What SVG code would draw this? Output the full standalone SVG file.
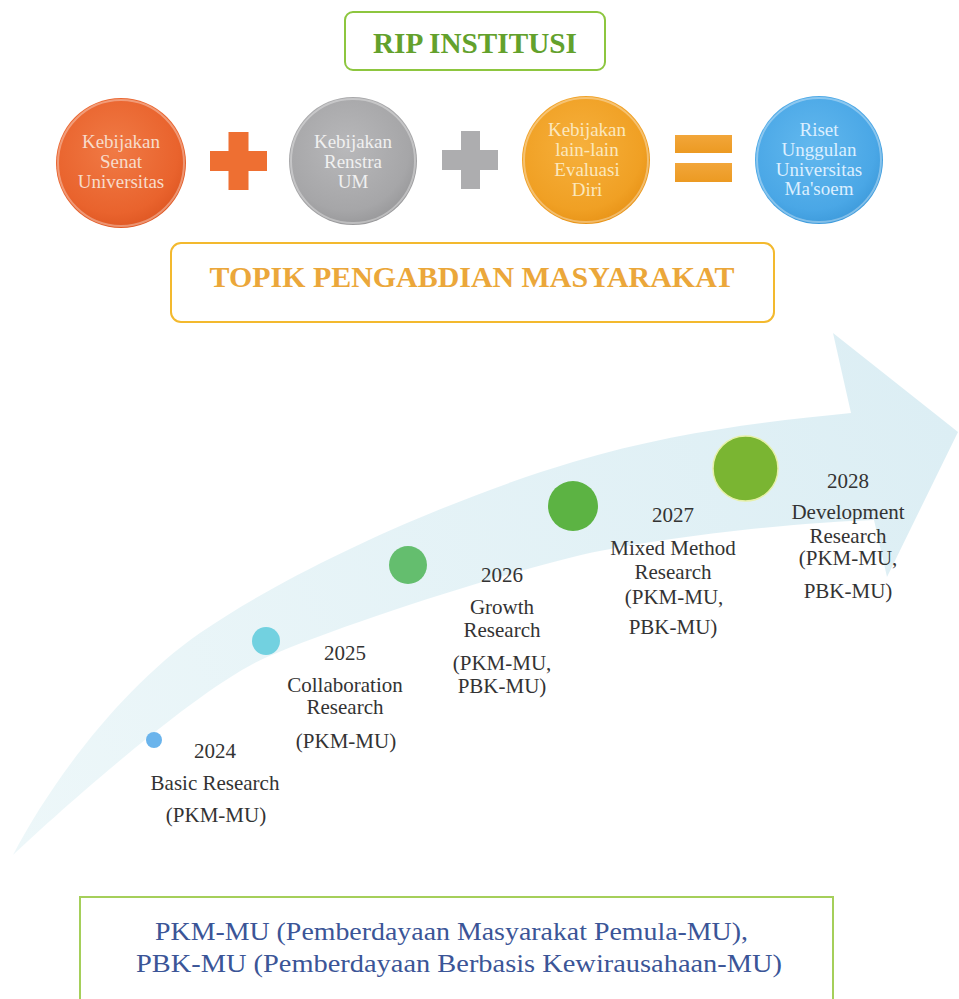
<svg xmlns="http://www.w3.org/2000/svg" width="959" height="999" viewBox="0 0 959 999">
<defs>
<radialGradient id="gOrange" cx="0.45" cy="0.4" r="0.65"><stop offset="0" stop-color="#f07a45"/><stop offset="0.75" stop-color="#e9632d"/><stop offset="1" stop-color="#dc5420"/></radialGradient>
<radialGradient id="gGray" cx="0.45" cy="0.4" r="0.65"><stop offset="0" stop-color="#b8b8ba"/><stop offset="0.75" stop-color="#a6a6a8"/><stop offset="1" stop-color="#949496"/></radialGradient>
<radialGradient id="gYellow" cx="0.45" cy="0.4" r="0.65"><stop offset="0" stop-color="#f6b03c"/><stop offset="0.75" stop-color="#f0a024"/><stop offset="1" stop-color="#e69014"/></radialGradient>
<radialGradient id="gBlue" cx="0.45" cy="0.4" r="0.65"><stop offset="0" stop-color="#62b8ee"/><stop offset="0.75" stop-color="#4aa7e6"/><stop offset="1" stop-color="#3a97d8"/></radialGradient>
<linearGradient id="gArrow" x1="13" y1="855" x2="958" y2="432" gradientUnits="userSpaceOnUse"><stop offset="0" stop-color="#edf7f9"/><stop offset="1" stop-color="#dceef4"/></linearGradient>
<linearGradient id="gOp" x1="0" y1="0" x2="0" y2="1"><stop offset="0" stop-color="#f2a63a"/><stop offset="1" stop-color="#ec9a22"/></linearGradient>
</defs>
<style>
.ct{font-family:"Liberation Serif","Times New Roman",serif;font-size:19px;text-anchor:middle}
.lbl{font-family:"Liberation Serif","Times New Roman",serif;font-size:21px;fill:#333;text-anchor:middle}
.hdr{font-family:"Liberation Serif","Times New Roman",serif;font-weight:bold;text-anchor:middle}
.leg{font-family:"Liberation Serif","Times New Roman",serif;font-size:25px;fill:#3b5597;text-anchor:middle}
.rim{fill:none;stroke:#ffffff;stroke-opacity:0.35;stroke-width:2}
</style>
<rect width="959" height="999" fill="#ffffff"/>

<g id="connectors">
<path id="timeline-arrow" fill="url(#gArrow)" d="M 13 855 C 55 775, 125 685, 200 633 C 290 571, 443 501, 573 462 C 673 432, 771 421, 851 413 L 833 333 L 958 432 L 887 577 L 874 520 C 800 522, 650 538, 573 557 C 473 582, 337 627, 267 657 C 197 687, 50 820, 13 855 Z"/>
</g>

<g id="rip-institusi">
<rect x="345" y="12" width="260" height="58" rx="8" fill="#fff" stroke="#8dc63f" stroke-width="2"/>
<text class="hdr" x="475" y="53" font-size="29" fill="#63a12c" textLength="204" lengthAdjust="spacingAndGlyphs">RIP INSTITUSI</text>
</g>

<g id="kebijakan-senat">
<circle cx="121" cy="163" r="65" fill="url(#gOrange)"/>
<circle cx="121" cy="163" r="63" class="rim"/>
<text class="ct" fill="#f7dccb"><tspan x="121" y="148">Kebijakan</tspan><tspan x="121" y="168">Senat</tspan><tspan x="121" y="188">Universitas</tspan></text>
</g>

<g id="plus-1">
<rect x="228.5" y="132" width="20" height="58" fill="#ee6f32"/>
<rect x="210" y="151" width="57" height="20" fill="#ee6f32"/>
</g>

<g id="kebijakan-renstra">
<circle cx="353" cy="161" r="64" fill="url(#gGray)"/>
<circle cx="353" cy="161" r="62" class="rim"/>
<text class="ct" fill="#f0f0f0"><tspan x="353" y="148">Kebijakan</tspan><tspan x="353" y="168">Renstra</tspan><tspan x="353" y="188">UM</tspan></text>
</g>

<g id="plus-2">
<rect x="461" y="131" width="19" height="58" fill="#adadaf"/>
<rect x="442" y="150" width="56" height="20" fill="#adadaf"/>
</g>

<g id="kebijakan-lain">
<circle cx="586" cy="160" r="64" fill="url(#gYellow)"/>
<circle cx="586" cy="160" r="62" class="rim"/>
<text class="ct" fill="#fbe7bd"><tspan x="587" y="136">Kebijakan</tspan><tspan x="587" y="156">lain-lain</tspan><tspan x="587" y="176">Evaluasi</tspan><tspan x="587" y="196">Diri</tspan></text>
</g>

<g id="equals">
<rect x="675" y="135" width="57" height="18" fill="url(#gOp)"/>
<rect x="675" y="163" width="57" height="19" fill="url(#gOp)"/>
</g>

<g id="riset-unggulan">
<circle cx="819" cy="160" r="64" fill="url(#gBlue)"/>
<circle cx="819" cy="160" r="62" class="rim"/>
<text class="ct" fill="#dcefff"><tspan x="819" y="136">Riset</tspan><tspan x="819" y="156">Unggulan</tspan><tspan x="819" y="176">Universitas</tspan><tspan x="819" y="195">Ma'soem</tspan></text>
</g>

<g id="topik-pengabdian">
<rect x="171" y="243" width="603" height="79" rx="10" fill="#fff" stroke="#f3b92e" stroke-width="2"/>
<text class="hdr" x="472" y="287" font-size="29" fill="#eba73a" textLength="525" lengthAdjust="spacingAndGlyphs">TOPIK PENGABDIAN MASYARAKAT</text>
</g>

<g id="y2024">
<circle cx="154" cy="740" r="8" fill="#6ab4ec"/>
<text class="lbl"><tspan x="215" y="758">2024</tspan><tspan x="215" y="790">Basic Research</tspan><tspan x="216" y="822">(PKM-MU)</tspan></text>
</g>

<g id="y2025">
<circle cx="266" cy="641" r="14" fill="#72d1e0"/>
<text class="lbl"><tspan x="345" y="660">2025</tspan><tspan x="345" y="692">Collaboration</tspan><tspan x="345" y="714">Research</tspan><tspan x="346" y="748">(PKM-MU)</tspan></text>
</g>

<g id="y2026">
<circle cx="408" cy="565" r="19" fill="#64be6e"/>
<text class="lbl"><tspan x="502" y="582">2026</tspan><tspan x="502" y="614">Growth</tspan><tspan x="502" y="637">Research</tspan><tspan x="502" y="670">(PKM-MU,</tspan><tspan x="502" y="693">PBK-MU)</tspan></text>
</g>

<g id="y2027">
<circle cx="573" cy="506" r="25" fill="#5cb343"/>
<text class="lbl"><tspan x="673" y="522">2027</tspan><tspan x="673" y="555">Mixed Method</tspan><tspan x="673" y="579">Research</tspan><tspan x="674" y="604">(PKM-MU,</tspan><tspan x="673" y="634">PBK-MU)</tspan></text>
</g>

<g id="y2028">
<circle cx="745.5" cy="468.5" r="32.5" fill="#7ab532" stroke="#e6f0a8" stroke-width="1.5"/>
<text class="lbl"><tspan x="848" y="488">2028</tspan><tspan x="848" y="519">Development</tspan><tspan x="848" y="543">Research</tspan><tspan x="848" y="565">(PKM-MU,</tspan><tspan x="848" y="598">PBK-MU)</tspan></text>
</g>

<g id="legend">
<rect x="80" y="897" width="753" height="120" fill="#fff" stroke="#a5cf5a" stroke-width="2"/>
<text class="leg" x="451.5" y="940" textLength="593" lengthAdjust="spacingAndGlyphs">PKM-MU (Pemberdayaan Masyarakat Pemula-MU),</text>
<text class="leg" x="459" y="972" textLength="646" lengthAdjust="spacingAndGlyphs">PBK-MU (Pemberdayaan Berbasis Kewirausahaan-MU)</text>
</g>
</svg>
